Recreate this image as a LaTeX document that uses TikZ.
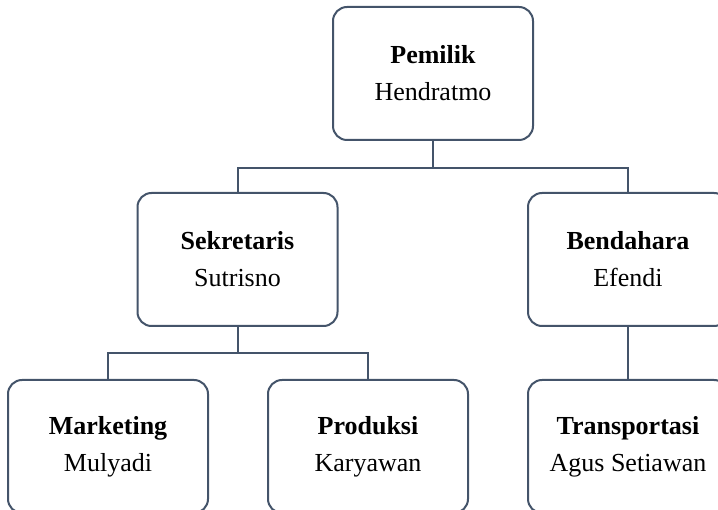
\documentclass[tikz,border=0pt]{standalone}
\usepackage{fontspec}
\setmainfont{Liberation Serif}
\usepackage{tikz}
\usetikzlibrary{positioning}
\definecolor{boxline}{HTML}{44546A}
\tikzstyle{unit}=[draw=boxline, fill=white, rounded corners=14pt, minimum height=133pt, minimum width=200pt, line width=2pt, align=center, font=\fontsize{26}{37}\selectfont]
\tikzstyle{link}=[draw=boxline, line width=2pt]

\begin{document}
\begin{tikzpicture}[x=1pt,y=-1pt]
\useasboundingbox (0,0) rectangle (718,510);

\node[unit] at (433,73.5) (pemilik) {\textbf{Pemilik}\\Hendratmo};
\node[unit] at (237.5,259.5) (sekretaris) {\textbf{Sekretaris}\\Sutrisno};
\node[unit] at (628,259.5) (bendahara) {\textbf{Bendahara}\\Efendi};

\node[unit] at (108,446.5) (marketing) {\textbf{Marketing}\\Mulyadi};
\node[unit] at (368,446.5) (produksi) {\textbf{Produksi}\\Karyawan};
\node[unit] at (628,446.5) (transport) {\textbf{Transportasi}\\Agus Setiawan};

% garis antar kotak
\draw[link] (pemilik.south) -- ++(0,27) -| (sekretaris.north);
\draw[link] (pemilik.south) -- ++(0,27) -| (bendahara.north);
\draw[link] (sekretaris.south) -- ++(0,26.5) -| (marketing.north);
\draw[link] (sekretaris.south) -- ++(0,26.5) -| (produksi.north);
\draw[link] (bendahara.south) -- (transport.north);
\end{tikzpicture}
\end{document}
